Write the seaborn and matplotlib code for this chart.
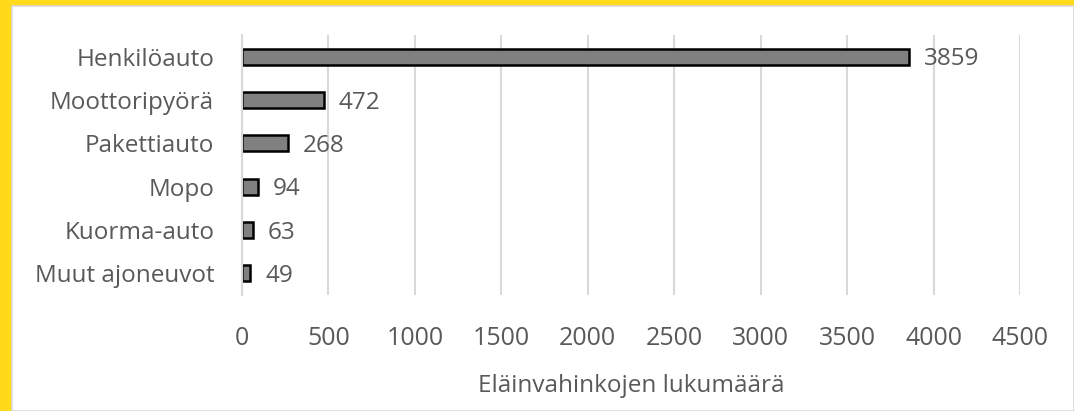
import matplotlib
matplotlib.use('Agg')
import matplotlib.pyplot as plt
from matplotlib.patches import Rectangle
import seaborn as sns
import pandas as pd

# Données : eläinvahingot ajoneuvotyypin mukaan
ajoneuvot = ['Henkilöauto', 'Moottoripyörä', 'Pakettiauto', 'Mopo', 'Kuorma-auto', 'Muut ajoneuvot']
lukumaarat = [3859, 472, 268, 94, 63, 49]
x_ticks = [0, 500, 1000, 1500, 2000, 2500, 3000, 3500, 4000, 4500]
x_label = 'Eläinvahinkojen lukumäärä'

df = pd.DataFrame({'ajoneuvo': ajoneuvot, 'lkm': lukumaarat})

sns.set_style('white')
plt.rcParams['font.family'] = ['Open Sans', 'DejaVu Sans']
teksti = '#595959'

fig = plt.figure(figsize=(10.74, 4.11), dpi=100)
fig.patch.set_facecolor('#FEDA1A')
# cadre blanc (bordure jaune à gauche et en haut)
fig.add_artist(Rectangle((12 / 1074, 0), 1 - 12 / 1074, 1 - 6 / 411,
                         transform=fig.transFigure, facecolor='white',
                         edgecolor='#d9d9d9', linewidth=1.2, zorder=-10))

ax = fig.add_axes([242 / 1074, 1 - 295 / 411, (1020 - 242) / 1074, 260 / 411])
ax.set_facecolor('none')

sns.barplot(data=df, x='lkm', y='ajoneuvo', ax=ax, color='#808080',
            edgecolor='black', linewidth=1.8, width=0.37, saturation=1)

for i, v in enumerate(lukumaarat):
    ax.text(v + 85, i + 0.06, str(v), va='center', ha='left', fontsize=17.5, color=teksti)

ax.set_xlim(0, 4500)
ax.set_ylim(5.5, -0.5)
ax.set_xticks(x_ticks)
ax.set_xticklabels([str(t) for t in x_ticks])
ax.xaxis.grid(True, color='#d9d9d9', linewidth=1.5)
ax.set_axisbelow(True)
for s in ['top', 'right', 'bottom']:
    ax.spines[s].set_visible(False)
ax.spines['left'].set_color('#d9d9d9')
ax.spines['left'].set_linewidth(1.5)
ax.tick_params(axis='both', length=0, labelcolor=teksti)
ax.tick_params(axis='x', pad=22, labelsize=18)
ax.tick_params(axis='y', pad=20, labelsize=17.5)
ax.set_ylabel('')
ax.set_xlabel(x_label, fontsize=17.5, color=teksti, labelpad=17)

fig.savefig('out.png', dpi=100, facecolor=fig.get_facecolor())
